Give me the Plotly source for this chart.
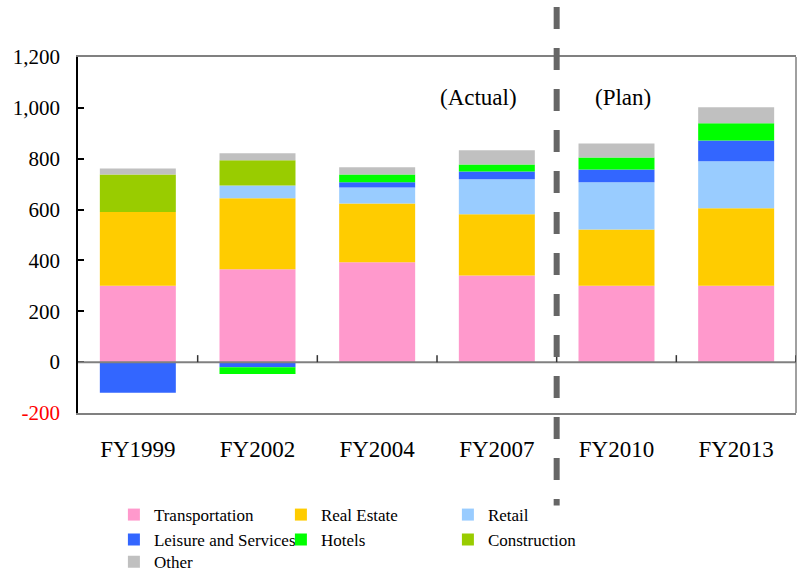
import plotly.graph_objects as go

# Fiscal years shown on the category axis
categories = ["FY1999", "FY2002", "FY2004", "FY2007", "FY2010", "FY2013"]

# Segment values per business line (bottom to top in each stack)
transportation = [300, 365, 393, 341, 300, 300]
real_estate = [290, 280, 231, 241, 222, 305]
retail = [0, 50, 63, 137, 185, 185]
leisure = [-120, -20, 20, 31, 51, 82]
hotels = [0, -27, 31, 27, 47, 67]
construction = [148, 99, 0, 0, 0, 0]
other = [24, 27, 28, 56, 55, 63]

y_ticks = [-200, 0, 200, 400, 600, 800, 1000, 1200]

FONT = "Liberation Serif, Times New Roman, serif"

series = [
    ("Transportation", transportation, "#FF99CC", "legend"),
    ("Real Estate", real_estate, "#FFCC00", "legend"),
    ("Retail", retail, "#99CCFF", "legend"),
    ("Leisure and Services", leisure, "#3366FF", "legend2"),
    ("Hotels", hotels, "#00FF00", "legend2"),
    ("Construction", construction, "#99CC00", "legend2"),
    ("Other", other, "#C0C0C0", "legend3"),
]

fig = go.Figure()
for name, vals, color, lg in series:
    fig.add_trace(go.Bar(
        x=categories, y=vals, name=name, legend=lg,
        marker=dict(color=color, line=dict(width=0)),
    ))

tick_text = []
for v in y_ticks:
    if v < 0:
        tick_text.append(f"<span style='color:#FF0000'>{v:,}</span>")
    else:
        tick_text.append(f"{v:,}")

legend_common = dict(
    orientation="h", xanchor="left", yanchor="middle",
    entrywidth=122, font=dict(family=FONT, size=17, color="black"),
    bgcolor="rgba(0,0,0,0)", traceorder="normal",
)

fig.update_layout(
    width=799, height=571,
    barmode="relative", bargap=0.365,
    margin=dict(l=78, r=3, t=57, b=158, autoexpand=False),
    paper_bgcolor="white", plot_bgcolor="white",
    font=dict(family=FONT, color="black"),
    showlegend=True,
    legend=dict(x=0.050, y=-0.2866, **legend_common),
    legend2=dict(x=0.050, y=-0.3566, **legend_common),
    legend3=dict(x=0.050, y=-0.4190, **legend_common),
    xaxis=dict(
        type="category", range=[-0.5, 5.5],
        showline=True, mirror=True, linecolor="#808080", linewidth=1.5,
        ticks="", showgrid=False,
        tickfont=dict(family=FONT, size=23, color="black"),
        ticklabelstandoff=15,
    ),
    yaxis=dict(
        range=[-200, 1200], tickmode="array", tickvals=y_ticks, ticktext=tick_text,
        ticks="inside", ticklen=6, tickcolor="black", tickwidth=1.5,
        showline=True, linecolor="black", linewidth=1.5,
        showgrid=False, zeroline=False,
        tickfont=dict(family=FONT, size=21, color="black"),
        ticklabelstandoff=12,
    ),
)

shapes = []
# right edge of the frame
shapes.append(dict(type="line", xref="paper", yref="paper", x0=1, x1=1, y0=0, y1=1,
                   line=dict(color="#808080", width=1.5), layer="above"))
# baseline at zero
shapes.append(dict(type="line", xref="paper", yref="y", x0=0, x1=1, y0=0, y1=0,
                   line=dict(color="#808080", width=2), layer="above"))
# small separators between categories on the baseline
for i in range(len(categories)):
    shapes.append(dict(type="line", xref="x", yref="y", ysizemode="pixel", yanchor=0,
                       x0=i + 0.5, x1=i + 0.5, y0=0, y1=7,
                       line=dict(color="#333333", width=1.5), layer="above"))
# divider between actual and planned years
shapes.append(dict(type="line", xref="paper", yref="paper",
                   x0=4 / 6, x1=4 / 6, y0=1.1406, y1=-0.2595,
                   line=dict(color="#666666", width=6, dash="22px,19px"), layer="above"))
fig.update_layout(shapes=shapes)

fig.add_annotation(text="(Actual)", xref="paper", yref="paper", x=0.5578, y=0.8876,
                   xanchor="center", yanchor="middle",
                   showarrow=False, font=dict(family=FONT, size=23, color="black"))
fig.add_annotation(text="(Plan)", xref="paper", yref="paper", x=0.7584, y=0.8876,
                   xanchor="center", yanchor="middle",
                   showarrow=False, font=dict(family=FONT, size=23, color="black"))

fig.write_html("out.html")
